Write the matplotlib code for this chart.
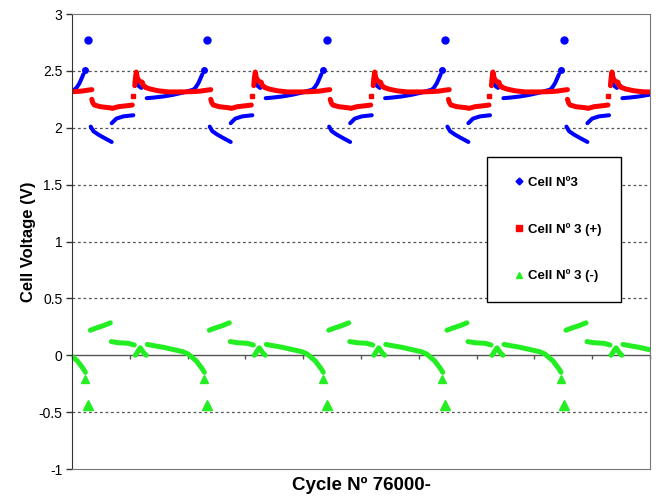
import matplotlib.pyplot as plt
from matplotlib.lines import Line2D

plt.rcParams['font.family'] = ['Liberation Sans', 'DejaVu Sans']

# x of the charge peak in each cycle (axis ticks are 1 unit apart)
peak_x = [-1.775, 0.282, 2.341, 4.407, 6.453, 8.512]

# whole cell voltage: runs of readings, x given as offset from the peak
cell_runs = [
    ([0.042, 0.087, 0.173, 0.277, 0.405], [2.01, 1.97, 1.94, 1.91, 1.875]),
    ([0.405, 0.484, 0.606, 0.779], [2.04, 2.08, 2.10, 2.11]),
    ([0.837, 0.865, 0.917], [2.39, 2.37, 2.35]),
    ([1.010, 1.125, 1.298, 1.471, 1.644, 1.817, 1.851, 1.903, 1.938, 1.972],
     [2.26, 2.265, 2.275, 2.29, 2.31, 2.335, 2.35, 2.39, 2.43, 2.47]),
]
cell_dots = ([0.0, 2.0], [2.775, 2.51])

# positive electrode
pos_runs = [
    ([0.060, 0.078, 0.104, 0.208, 0.381, 0.415, 0.519, 0.692, 0.761],
     [2.25, 2.22, 2.20, 2.185, 2.175, 2.17, 2.185, 2.195, 2.20]),
    ([0.804, 0.813, 0.830, 0.848, 0.882, 0.934, 0.952, 0.986],
     [2.37, 2.43, 2.49, 2.44, 2.41, 2.40, 2.37, 2.36]),
    ([0.986, 1.073, 1.211, 1.384, 1.644, 1.817, 1.938, 2.042, 2.119],
     [2.355, 2.34, 2.325, 2.315, 2.315, 2.318, 2.322, 2.33, 2.335]),
]
pos_dots = ([0.768], [2.275])

# negative electrode
neg_runs = [
    ([0.035, 0.138, 0.260, 0.381], [0.22, 0.24, 0.26, 0.285]),
    ([0.398, 0.519, 0.692, 0.796], [0.12, 0.11, 0.105, 0.09]),
    ([0.813, 0.830, 0.865, 0.900, 0.934, 0.969, 1.003],
     [0.0, 0.01, 0.04, 0.065, 0.04, 0.015, 0.0]),
    ([1.021, 1.125, 1.298, 1.471, 1.644, 1.730, 1.799, 1.869, 1.920, 1.972, 2.007],
     [0.095, 0.085, 0.07, 0.05, 0.03, 0.01, -0.02, -0.05, -0.085, -0.12, -0.15]),
]
neg_dots = ([0.0, 2.0], [-0.44, -0.21])
neg_dot_sizes = [7.5, 5.5]

y_ticks = [-1, -0.5, 0, 0.5, 1, 1.5, 2, 2.5, 3]
y_labels = ['-1', '-0.5', '0', '0.5', '1', '1.5', '2', '2.5', '3']

BLUE = '#0000ff'
RED = '#ff0000'
GREEN = '#22ee22'

fig = plt.figure(figsize=(6.56, 4.98), dpi=100)
ax = fig.add_axes([72 / 656, 1 - 469 / 498, 578 / 656, 455 / 498])


def draw_series(runs, dots, color, lw, marker, sizes):
    for px in peak_x:
        for xs, ys in runs:
            ax.plot([px + x for x in xs], ys, color=color, lw=lw,
                    solid_capstyle='round', solid_joinstyle='round')
        for x, y, ms in zip(dots[0], dots[1], sizes):
            ax.plot(px + x, y, ls='none', marker=marker, ms=ms,
                    color=color, mec=color)


draw_series(cell_runs, cell_dots, BLUE, 2.9, 'o', [5, 4])
draw_series(pos_runs, pos_dots, RED, 3.6, 's', [3.5])
draw_series(neg_runs, neg_dots, GREEN, 3.6, '^', neg_dot_sizes)

# dashed gridlines, solid line at zero
for y in y_ticks[1:-1]:
    if y == 0:
        ax.axhline(0, color='#555555', lw=1.0, zorder=1)
    else:
        ax.axhline(y, color='#555555', lw=0.9, dashes=(2.2, 2.2), zorder=1)

ax.set_xlim(0, 10)
ax.set_ylim(-1, 3)
ax.set_yticks(y_ticks)
ax.set_yticklabels(y_labels)
ax.set_xticks([])
ax.tick_params(axis='y', direction='out', length=4, width=1, labelsize=10,
               colors='#333333', labelcolor='black', pad=3)
for side in ['top', 'right', 'bottom']:
    ax.spines[side].set_color('#777777')
ax.spines['left'].set_color('#333333')

# category axis crossing at zero
zero_axis = ax.secondary_xaxis(0.25)
zero_axis.set_xticks(range(11))
zero_axis.set_xticklabels([])
zero_axis.tick_params(direction='out', length=3, width=1, colors='#555555')
zero_axis.spines['bottom'].set_visible(False)

ax.set_ylabel('Cell Voltage (V)', fontsize=12, fontweight='bold', labelpad=2)
ax.set_xlabel('Cycle Nº 76000-', fontsize=13.5, fontweight='bold', labelpad=6)

handles = [
    Line2D([], [], ls='none', marker='D', ms=3.5, color=BLUE),
    Line2D([], [], ls='none', marker='s', ms=4.5, color=RED),
    Line2D([], [], ls='none', marker='^', ms=5, color=GREEN),
]
leg = ax.legend(handles, ['Cell Nº3', 'Cell Nº 3 (+)', 'Cell Nº 3 (-)'],
                loc='upper left', bbox_to_anchor=(487 / 656, 1 - 157 / 498),
                bbox_transform=fig.transFigure, borderaxespad=0,
                prop={'size': 9.5, 'weight': 'bold'}, frameon=True,
                fancybox=False, edgecolor='black', framealpha=1,
                labelspacing=2.55, borderpad=1.5, handlelength=1.9,
                handletextpad=-0.3)
leg.get_frame().set_linewidth(1.0)

fig.savefig('out.png', dpi=100)
